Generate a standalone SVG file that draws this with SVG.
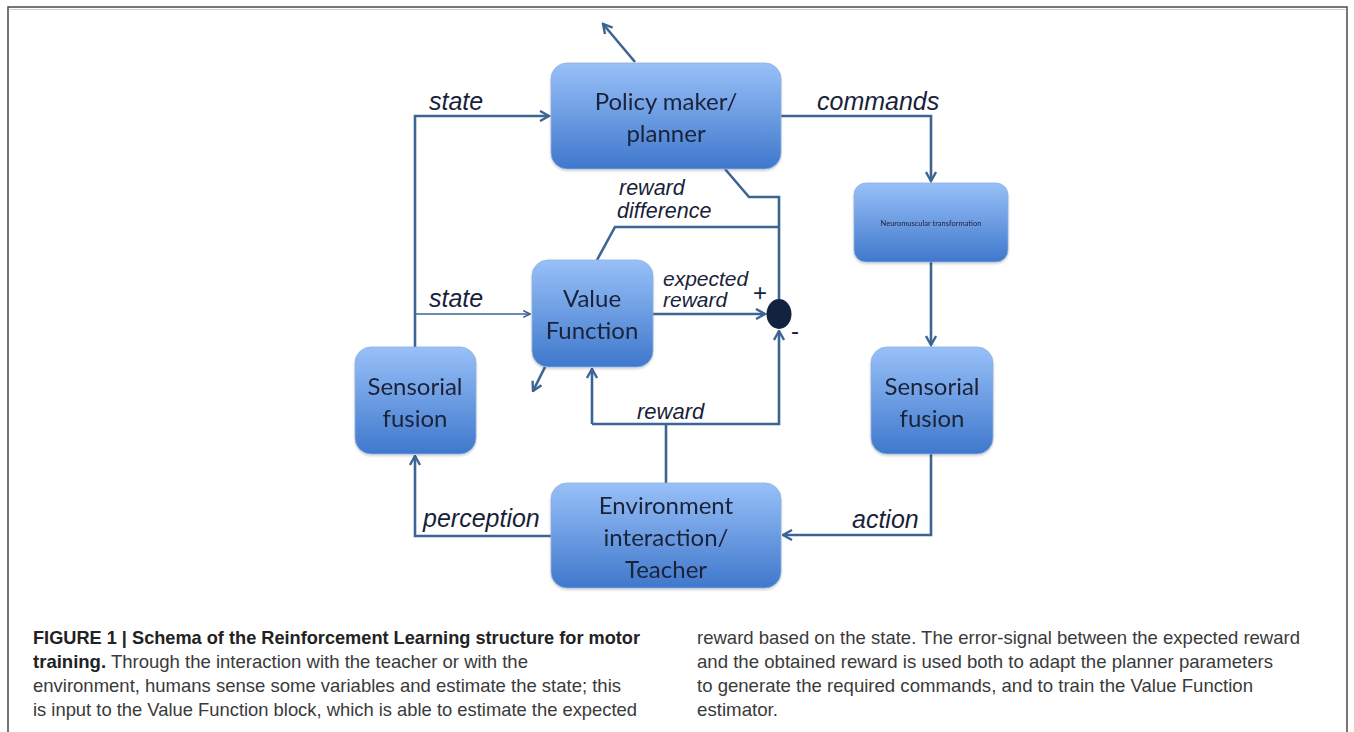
<svg xmlns="http://www.w3.org/2000/svg" width="1354" height="732" viewBox="0 0 1354 732">
<style>
.node{fill:url(#g);stroke:#8fb0dc;stroke-width:0.8}
.nt{font-family:Lato,"Noto Sans",sans-serif;font-size:24px;fill:#1a2238;text-anchor:middle}
.lb{font-family:"Liberation Sans",Arial,sans-serif;font-style:italic;fill:#1a1f3a}
.ln{fill:none;stroke:#3d6594;stroke-width:2.6}
.cap{font-family:"Liberation Sans Narrow","Liberation Sans",Arial,sans-serif;font-size:18.5px;fill:#3a3a3a}
.capb{font-weight:bold;fill:#222}
</style>
<defs>
<linearGradient id="g" x1="0" y1="0" x2="0" y2="1">
<stop offset="0" stop-color="#98c0f8"/>
<stop offset="1" stop-color="#3f78cc"/>
</linearGradient>
<filter id="sh" x="-10%" y="-10%" width="120%" height="125%">
<feDropShadow dx="0" dy="1.5" stdDeviation="1.2" flood-color="#000" flood-opacity="0.2"/>
</filter>
<marker id="a" viewBox="0 0 12 12" refX="10.5" refY="6" markerWidth="12" markerHeight="12" markerUnits="userSpaceOnUse" orient="auto">
<path d="M1.5,1 L10.5,6 L1.5,11" fill="none" stroke="#3d6594" stroke-width="2.4"/>
</marker>
<marker id="as" viewBox="0 0 12 12" refX="10.5" refY="6" markerWidth="9" markerHeight="9" markerUnits="userSpaceOnUse" orient="auto">
<path d="M1.5,1.5 L10.5,6 L1.5,10.5" fill="none" stroke="#3d6594" stroke-width="2.2"/>
</marker>
</defs>
<rect width="1354" height="732" fill="#fff"/>
<g id="frame" fill="none">
<path d="M8,732 V7 H1347 V732" stroke="#4a4a4a" stroke-width="1.5"/>
<path d="M9.5,9.5 H1345.5" stroke="#cfcfcf" stroke-width="1"/>
</g>
<g id="connectors">
<path class="ln" d="M635,62 L603,24" marker-end="url(#a)"/>
<path class="ln" d="M415,347 V116 H549" marker-end="url(#a)"/>
<path class="ln" style="stroke-width:1.6" d="M415,314 H530" marker-end="url(#as)"/>
<path class="ln" d="M781,116 H931 V181" marker-end="url(#a)"/>
<path class="ln" d="M931,262 V345" marker-end="url(#a)"/>
<path class="ln" d="M931,454 V535 H783" marker-end="url(#a)"/>
<path class="ln" d="M551,536 H415 V456" marker-end="url(#a)"/>
<path class="ln" d="M725,169 L749,197 H779 V299"/>
<path class="ln" d="M597,260 L615,227 H779"/>
<path class="ln" d="M653,314 H765" marker-end="url(#a)"/>
<path class="ln" d="M545,367 L533,391" marker-end="url(#a)"/>
<path class="ln" d="M666,483 V424"/>
<path class="ln" d="M592,424 V369" marker-end="url(#a)"/>
<path class="ln" d="M592,424 H779 V331" marker-end="url(#a)"/>
<ellipse id="sum" cx="779" cy="314" rx="12.5" ry="15" fill="#13233f"/>
<text class="lb" x="429" y="110" font-size="25">state</text>
<text class="lb" x="429" y="307" font-size="25">state</text>
<text class="lb" x="817" y="110" font-size="25">commands</text>
<text class="lb" x="619" y="195" font-size="21.5">reward</text>
<text class="lb" x="617" y="218" font-size="21.5">difference</text>
<text class="lb" x="663" y="286" font-size="21">expected</text>
<text class="lb" x="663" y="307" font-size="21">reward</text>
<text class="lb" x="637" y="419" font-size="22">reward</text>
<text class="lb" x="423" y="527" font-size="25">perception</text>
<text class="lb" x="852" y="528" font-size="25">action</text>
<text x="760" y="301" font-family="Liberation Sans,Arial,sans-serif" font-size="24" fill="#13233f" text-anchor="middle">+</text>
<text x="795" y="339" font-family="Liberation Sans,Arial,sans-serif" font-size="24" fill="#13233f" text-anchor="middle">-</text>
</g>
<g id="policy" filter="url(#sh)">
<rect class="node" x="551" y="63" width="230" height="106" rx="16"/>
<text class="nt" x="666" y="110">Policy maker/</text>
<text class="nt" x="666" y="142">planner</text>
</g>
<g id="neuromuscular" filter="url(#sh)">
<rect class="node" x="854" y="183" width="154" height="79" rx="12"/>
<text x="931" y="226" font-family="Lato,'Noto Sans',sans-serif" font-size="7.5" fill="#1a2238" text-anchor="middle">Neuromuscular transformation</text>
</g>
<g id="value" filter="url(#sh)">
<rect class="node" x="532" y="260" width="121" height="107" rx="16"/>
<text class="nt" x="592" y="307">Value</text>
<text class="nt" x="592" y="339">Function</text>
</g>
<g id="sensorial-left" filter="url(#sh)">
<rect class="node" x="355" y="347" width="121" height="107" rx="16"/>
<text class="nt" x="415" y="395">Sensorial</text>
<text class="nt" x="415" y="427">fusion</text>
</g>
<g id="sensorial-right" filter="url(#sh)">
<rect class="node" x="871" y="347" width="122" height="107" rx="16"/>
<text class="nt" x="932" y="395">Sensorial</text>
<text class="nt" x="932" y="427">fusion</text>
</g>
<g id="environment" filter="url(#sh)">
<rect class="node" x="551" y="483" width="230" height="105" rx="16"/>
<text class="nt" x="666" y="514">Environment</text>
<text class="nt" x="666" y="546">interaction/</text>
<text class="nt" x="666" y="578">Teacher</text>
</g>
<g id="caption">
<text class="cap capb" x="33" y="644" textLength="607" lengthAdjust="spacingAndGlyphs">FIGURE 1 | Schema of the Reinforcement Learning structure for motor</text>
<text class="cap" x="33" y="668" textLength="495" lengthAdjust="spacingAndGlyphs"><tspan class="capb">training.</tspan> Through the interaction with the teacher or with the</text>
<text class="cap" x="33" y="692" textLength="588" lengthAdjust="spacingAndGlyphs">environment, humans sense some variables and estimate the state; this</text>
<text class="cap" x="33" y="716" textLength="604" lengthAdjust="spacingAndGlyphs">is input to the Value Function block, which is able to estimate the expected</text>
<text class="cap" x="697" y="644" textLength="603" lengthAdjust="spacingAndGlyphs">reward based on the state. The error-signal between the expected reward</text>
<text class="cap" x="697" y="668" textLength="576" lengthAdjust="spacingAndGlyphs">and the obtained reward is used both to adapt the planner parameters</text>
<text class="cap" x="697" y="692" textLength="556" lengthAdjust="spacingAndGlyphs">to generate the required commands, and to train the Value Function</text>
<text class="cap" x="697" y="716" textLength="81" lengthAdjust="spacingAndGlyphs">estimator.</text>
</g>
</svg>
